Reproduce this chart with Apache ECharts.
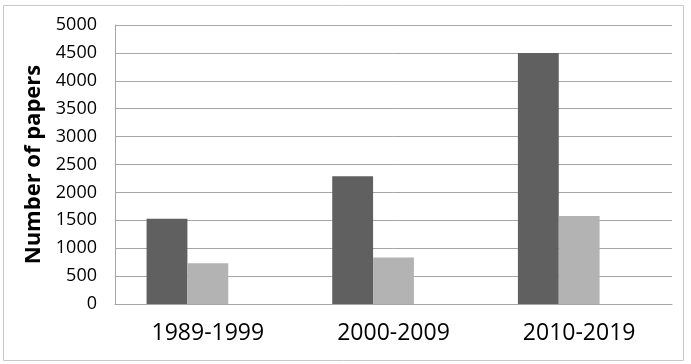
<!DOCTYPE html>
<html><head><meta charset="utf-8">
<script src="https://cdn.jsdelivr.net/npm/echarts@6/dist/echarts.min.js"></script>
<style>html,body{margin:0;padding:0;background:#fff}#c{width:691px;height:364px}</style>
</head><body><div id="c"></div>
<script>
const categories = ['1989-1999', '2000-2009', '2010-2019'];
const seriesA = [1530, 2290, 4500];
const seriesB = [730, 835, 1575];
const seriesC = ['-', '-', '-'];
const yTicks = {min: 0, max: 5000, interval: 500};
const yName = 'Number of papers';

const chart = echarts.init(document.getElementById('c'), null, {renderer: 'canvas'});
chart.setOption({
  animation: false,
  backgroundColor: '#fff',
  graphic: [{type: 'rect', shape: {x: 3.5, y: 5.5, width: 680, height: 355}, style: {fill: 'none', stroke: '#c8c8c8', lineWidth: 1}, silent: true}],
  grid: {left: 115, right: 19, top: 25, bottom: 60},
  xAxis: {
    type: 'category', data: categories,
    axisLine: {lineStyle: {color: '#a6a6a6', width: 1}},
    axisTick: {show: false},
    axisLabel: {fontFamily: 'Open Sans', fontSize: 23, color: '#000', margin: 18}
  },
  yAxis: {
    type: 'value', min: yTicks.min, max: yTicks.max, interval: yTicks.interval,
    name: yName, nameLocation: 'middle', nameGap: 67,
    nameTextStyle: {fontFamily: 'Open Sans', fontSize: 22, fontWeight: 'bold', color: '#000'},
    axisLine: {show: true, lineStyle: {color: '#a6a6a6', width: 1}},
    axisTick: {show: false},
    splitLine: {lineStyle: {color: '#a6a6a6', width: 1}},
    axisLabel: {fontFamily: 'Open Sans', fontSize: 18, color: '#000', margin: 18, formatter: v => String(v)}
  },
  series: [
    {type: 'bar', data: seriesA, itemStyle: {color: '#606060'}, barGap: '0%', barCategoryGap: '34%'},
    {type: 'bar', data: seriesB, itemStyle: {color: '#b3b3b3'}, barGap: '0%', barCategoryGap: '34%'},
    {type: 'bar', data: seriesC, itemStyle: {color: '#8c8c8c'}, barGap: '0%', barCategoryGap: '34%'}
  ]
});
</script></body></html>
